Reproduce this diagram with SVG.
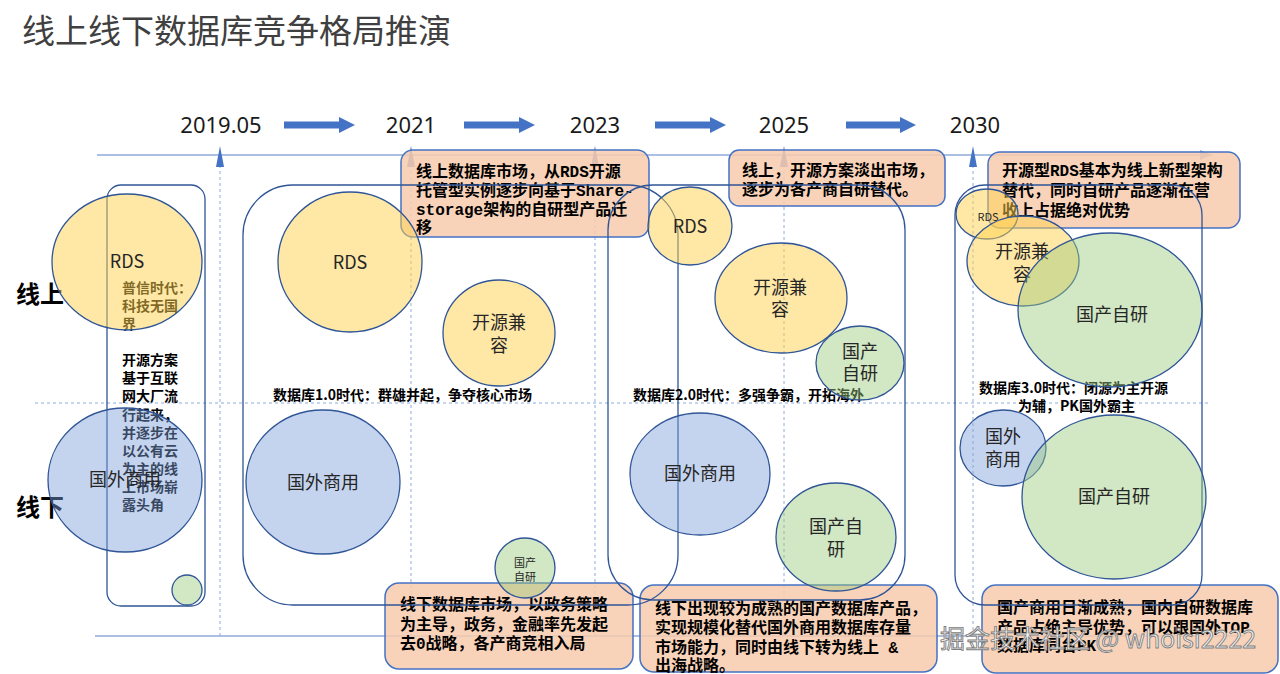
<svg xmlns="http://www.w3.org/2000/svg" width="1280" height="674" viewBox="0 0 1280 674">
<defs>
<style>
.title{font-family:"Noto Sans CJK SC","Noto Sans",sans-serif;font-size:33px;fill:#404040}
.year{font-family:"Noto Sans","Liberation Sans",sans-serif;font-size:22px;fill:#1a1a1a;text-anchor:middle}
.side{font-family:"Noto Sans CJK SC",sans-serif;font-size:24px;font-weight:bold;fill:#000}
.cy{fill:#ffd24d;fill-opacity:0.5;stroke:#2f5597;stroke-width:1.3}
.cb{fill:#7f9fd9;fill-opacity:0.45;stroke:#2f5597;stroke-width:1.3}
.cg{fill:#9bc97c;fill-opacity:0.45;stroke:#2f5597;stroke-width:1.3}
.ct{font-family:"Noto Sans CJK SC",sans-serif;font-size:18px;fill:#262626;text-anchor:middle}
.era{fill:none;stroke:#2f5597;stroke-width:1.3}
.box{fill:#f8cbad;fill-opacity:0.85;stroke:#4472c4;stroke-width:1.5}
.bt{font-family:"Liberation Mono","Noto Sans CJK SC",monospace;font-size:16px;font-weight:bold;fill:#000}
.lbl{font-family:"Noto Sans CJK SC",sans-serif;font-size:14px;font-weight:bold;fill:#000}
.axis{stroke:#8faadc;stroke-width:1.5;fill:none}
.dash{stroke:#8faadc;stroke-width:1;stroke-dasharray:3 3;fill:none}
.blk{fill:#4472c4}
.wm{font-family:"Noto Sans CJK SC","Noto Sans",sans-serif;font-size:25px;fill:#f4f4f4;stroke:#7f7f7f;stroke-width:0.9}
</style>
<marker id="axh" markerUnits="userSpaceOnUse" markerWidth="12" markerHeight="10" refX="12" refY="5" orient="auto">
<path d="M0,0 L12,5 L0,10 Z" fill="#8faadc"/>
</marker>
</defs>
<rect width="1280" height="674" fill="#ffffff"/>

<text class="title" x="22" y="43">线上线下数据库竞争格局推演</text>

<g id="years">
<text class="year" x="221" y="133">2019.05</text>
<text class="year" x="411" y="133">2021</text>
<text class="year" x="595" y="133">2023</text>
<text class="year" x="784" y="133">2025</text>
<text class="year" x="975" y="133">2030</text>
</g>

<g id="connectors">
<polygon class="blk" points="284,121.5 339,121.5 339,117 355,125 339,133 339,128.5 284,128.5"/>
<polygon class="blk" points="464,121.5 519,121.5 519,117 535,125 519,133 519,128.5 464,128.5"/>
<polygon class="blk" points="655,121.5 710,121.5 710,117 726,125 710,133 710,128.5 655,128.5"/>
<polygon class="blk" points="846,121.5 900,121.5 900,117 916,125 900,133 900,128.5 846,128.5"/>
<line class="axis" x1="97" y1="155" x2="1212" y2="155" marker-end="url(#axh)"/>
<line class="axis" x1="95" y1="636" x2="1245" y2="636"/>
<line class="dash" x1="35" y1="403" x2="1210" y2="403"/>
<line class="dash" x1="220" y1="165" x2="220" y2="636"/>
<line class="dash" x1="411" y1="165" x2="411" y2="636"/>
<line class="dash" x1="595" y1="165" x2="595" y2="636"/>
<line class="dash" x1="784" y1="165" x2="784" y2="636"/>
<line class="dash" x1="973" y1="165" x2="973" y2="636"/>
<polygon class="blk" points="220,146 224,167 216,167"/>
<polygon class="blk" points="411,146 415,167 407,167"/>
<polygon class="blk" points="595,146 599,167 591,167"/>
<polygon class="blk" points="784,146 788,167 780,167"/>
<polygon class="blk" points="973,146 977,167 969,167"/>
</g>

<g id="box-online-2021">
<rect class="box" x="401" y="150" width="248" height="87" rx="12"/>
<text class="bt" x="416" y="177">线上数据库市场，从RDS开源</text>
<text class="bt" x="416" y="196">托管型实例逐步向基于Share-</text>
<text class="bt" x="416" y="215">storage架构的自研型产品迁</text>
<text class="bt" x="416" y="233">移</text>
</g>
<g id="box-online-2025">
<rect class="box" x="729" y="150" width="216" height="56" rx="10"/>
<text class="bt" x="742" y="176">线上，开源方案淡出市场，</text>
<text class="bt" x="742" y="195">逐步为各产商自研替代。</text>
</g>
<g id="box-online-2030">
<rect class="box" x="988" y="152" width="252" height="76" rx="12"/>
<text class="bt" x="1002" y="176">开源型RDS基本为线上新型架构</text>
<text class="bt" x="1002" y="196">替代，同时自研产品逐渐在营</text>
<text class="bt" x="1002" y="216">收上占据绝对优势</text>
</g>
<g id="box-offline-2021">
<rect class="box" x="385" y="583" width="248" height="86" rx="14"/>
<text class="bt" x="400" y="610">线下数据库市场，以政务策略</text>
<text class="bt" x="400" y="630">为主导，政务，金融率先发起</text>
<text class="bt" x="400" y="649">去0战略，各产商竞相入局</text>
</g>
<g id="box-offline-2025">
<rect class="box" x="640" y="585" width="297" height="87" rx="14"/>
<text class="bt" x="655" y="614">线下出现较为成熟的国产数据库产品，</text>
<text class="bt" x="655" y="633">实现规模化替代国外商用数据库存量</text>
<text class="bt" x="655" y="653">市场能力，同时由线下转为线上 &amp;</text>
<text class="bt" x="655" y="671">出海战略。</text>
</g>
<g id="box-offline-2030">
<rect class="box" x="982" y="585" width="296" height="88" rx="14"/>
<text class="bt" x="997" y="613">国产商用日渐成熟，国内自研数据库</text>
<text class="bt" x="997" y="633">产品占绝主导优势，可以跟国外TOP</text>
<text class="bt" x="997" y="651">数据库同台PK</text>
</g>

<g id="era-frames">
<rect class="era" x="107" y="185" width="98" height="421" rx="14"/>
<rect class="era" x="243" y="185" width="435" height="420" rx="50"/>
<rect class="era" x="608" y="185" width="297" height="415" rx="45"/>
<rect class="era" x="955" y="185" width="247" height="420" rx="30"/>
</g>

<g id="side-labels">
<text class="side" x="16" y="303">线上</text>
<text class="side" x="16" y="516">线下</text>
</g>

<g id="note-2019">
<text class="lbl" x="122" y="293">普信时代：</text>
<text class="lbl" x="122" y="311">科技无国</text>
<text class="lbl" x="122" y="329">界</text>
<text class="lbl" x="122" y="365">开源方案</text>
<text class="lbl" x="122" y="383">基于互联</text>
<text class="lbl" x="122" y="401">网大厂流</text>
<text class="lbl" x="122" y="420">行起来，</text>
<text class="lbl" x="122" y="438">并逐步在</text>
<text class="lbl" x="122" y="456">以公有云</text>
<text class="lbl" x="122" y="474">为主的线</text>
<text class="lbl" x="122" y="492">上市场崭</text>
<text class="lbl" x="122" y="510">露头角</text>
</g>
<g id="label-era1"><text class="lbl" x="273" y="400">数据库1.0时代：群雄并起，争夺核心市场</text></g>
<g id="label-era2"><text class="lbl" x="633" y="400">数据库2.0时代：多强争霸，开拓海外</text></g>
<g id="label-era3">
<text class="lbl" x="979" y="393">数据库3.0时代：闭源为主开源</text>
<text class="lbl" x="1018" y="411">为辅，PK国外霸主</text>
</g>

<g id="c2019-rds"><ellipse class="cy" cx="127" cy="262" rx="75" ry="68"/><text class="ct" x="127" y="268">RDS</text></g>
<g id="c2019-foreign"><ellipse class="cb" cx="125" cy="480" rx="77" ry="72"/><text class="ct" x="125" y="486">国外商用</text></g>
<g id="c2019-domestic"><ellipse class="cg" cx="187" cy="590" rx="15" ry="15"/></g>

<g id="c1-rds"><ellipse class="cy" cx="350" cy="262" rx="72" ry="70"/><text class="ct" x="350" y="269">RDS</text></g>
<g id="c1-open"><ellipse class="cy" cx="499" cy="333" rx="56" ry="53"/><text class="ct" x="499" y="329">开源兼</text><text class="ct" x="499" y="352">容</text></g>
<g id="c1-foreign"><ellipse class="cb" cx="323" cy="482" rx="77" ry="72"/><text class="ct" x="323" y="489">国外商用</text></g>
<g id="c1-domestic"><ellipse class="cg" cx="525" cy="568" rx="30" ry="30"/><text class="ct" x="525" y="567" style="font-size:11px">国产</text><text class="ct" x="525" y="581" style="font-size:11px">自研</text></g>

<g id="c2-rds"><ellipse class="cy" cx="690" cy="226" rx="42" ry="39"/><text class="ct" x="690" y="233">RDS</text></g>
<g id="c2-open"><ellipse class="cy" cx="781" cy="298" rx="66" ry="55"/><text class="ct" x="780" y="294">开源兼</text><text class="ct" x="780" y="316">容</text></g>
<g id="c2-domestic-on"><ellipse class="cg" cx="860" cy="363" rx="44" ry="37"/><text class="ct" x="860" y="358">国产</text><text class="ct" x="860" y="380">自研</text></g>
<g id="c2-foreign"><ellipse class="cb" cx="700" cy="474" rx="70" ry="61"/><text class="ct" x="700" y="480">国外商用</text></g>
<g id="c2-domestic-off"><ellipse class="cg" cx="836" cy="537" rx="60" ry="54"/><text class="ct" x="836" y="533">国产自</text><text class="ct" x="836" y="556">研</text></g>

<g id="c3-rds"><ellipse class="cy" cx="987" cy="214" rx="31" ry="25"/><text class="ct" x="988" y="221" style="font-size:11px">RDS</text></g>
<g id="c3-open"><ellipse class="cy" cx="1023" cy="261" rx="56" ry="45"/><text class="ct" x="1022" y="258">开源兼</text><text class="ct" x="1022" y="281">容</text></g>
<g id="c3-domestic-on"><ellipse class="cg" cx="1110" cy="310" rx="92" ry="77"/><text class="ct" x="1112" y="321">国产自研</text></g>
<g id="c3-foreign"><ellipse class="cb" cx="1003" cy="448" rx="43" ry="38"/><text class="ct" x="1003" y="443">国外</text><text class="ct" x="1003" y="466">商用</text></g>
<g id="c3-domestic-off"><ellipse class="cg" cx="1114" cy="497" rx="92" ry="82"/><text class="ct" x="1114" y="503">国产自研</text></g>

<text class="wm" x="940" y="648">掘金技术社区 @ whoisi2222</text>
</svg>
